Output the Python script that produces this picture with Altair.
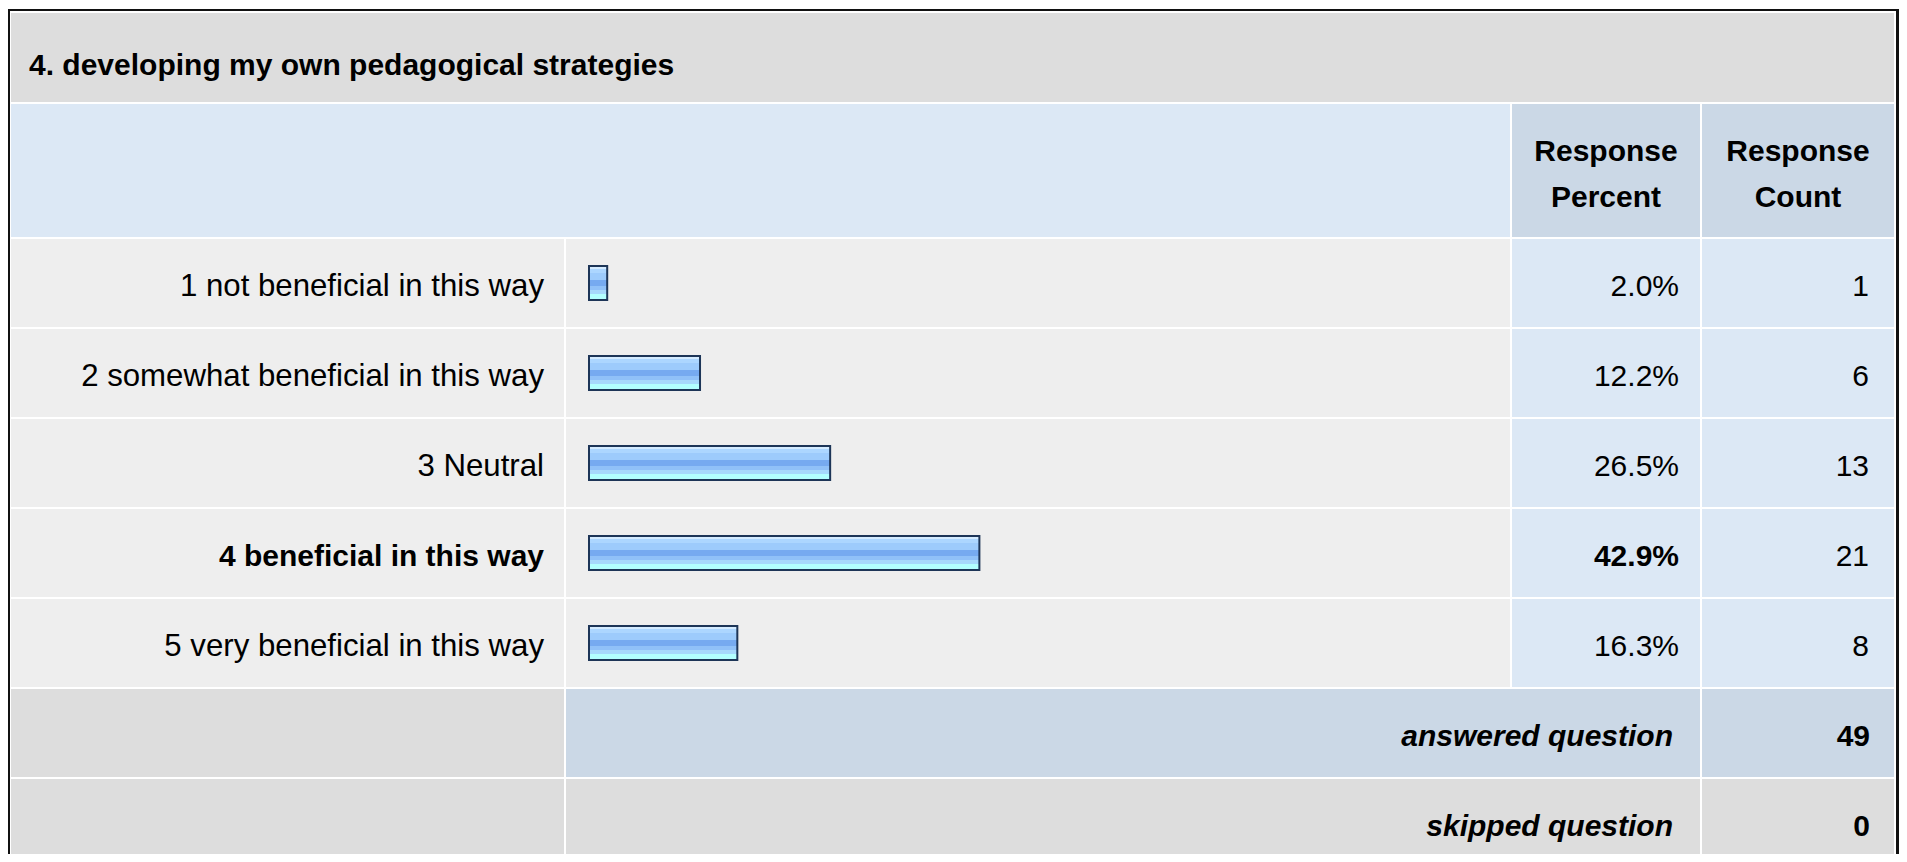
import altair as alt
import pandas as pd

# ---------------- data ----------------
question_title = "4. developing my own pedagogical strategies"
answer_labels = [
    "1 not beneficial in this way",
    "2 somewhat beneficial in this way",
    "3 Neutral",
    "4 beneficial in this way",
    "5 very beneficial in this way",
]
response_percent = [2.0, 12.2, 26.5, 42.9, 16.3]
response_count = [1, 6, 13, 21, 8]
percent_header = ["Response", "Percent"]
count_header = ["Response", "Count"]
summary_labels = ["answered question", "skipped question"]
summary_counts = [49, 0]

# ---------------- layout (page pixels) ----------------
W, H = 1891, 846          # chart area, origin at page (8, 8)
OX, OY = 8, 8
LABEL_COL = (11, 564)
BAR_COL = (566, 1510)
PCT_COL = (1512, 1700)
CNT_COL = (1702, 1894)
TITLE_ROW = (13, 102)
HEADER_ROW = (104, 237)
ROW0, ROW_STEP, ROW_H = 239, 90, 88
BAR_START, BAR_FULL = 589, 1499   # 0% and 100% positions
BAR_HALF = 17
FONT = "Liberation Sans"
FS = 30
FS_LABEL = 31.2

C_TITLE = "#dddddd"
C_HEAD = "#dce8f5"
C_HEAD_CELL = "#cbd8e6"
C_BODY = "#eeeeee"
C_BODY_NUM = "#dce8f5"
C_SUM = "#cbd8e6"
C_SKIP = "#dddddd"

xs = alt.Scale(domain=[OX, OX + W], nice=False, zero=False)
ys = alt.Scale(domain=[OY, OY + H], nice=False, zero=False, reverse=True)


def X(f):
    return alt.X(f, type="quantitative", scale=xs, axis=None)


def Y(f):
    return alt.Y(f, type="quantitative", scale=ys, axis=None)


# ---------------- cells ----------------
cells = []


def cell(c, r, fill):
    cells.append({"x": c[0], "x2": c[1], "y": r[0], "y2": r[1], "fill": fill})


cell((LABEL_COL[0], CNT_COL[1]), TITLE_ROW, C_TITLE)
cell((LABEL_COL[0], BAR_COL[1]), HEADER_ROW, C_HEAD)
cell(PCT_COL, HEADER_ROW, C_HEAD_CELL)
cell(CNT_COL, HEADER_ROW, C_HEAD_CELL)
n = len(answer_labels)
for i in range(n):
    r = (ROW0 + i * ROW_STEP, ROW0 + i * ROW_STEP + ROW_H)
    cell(LABEL_COL, r, C_BODY)
    cell(BAR_COL, r, C_BODY)
    cell(PCT_COL, r, C_BODY_NUM)
    cell(CNT_COL, r, C_BODY_NUM)
for j, fill in enumerate([C_SUM, C_SKIP]):
    i = n + j
    r = (ROW0 + i * ROW_STEP, ROW0 + i * ROW_STEP + ROW_H)
    cell(LABEL_COL, r, C_SKIP)
    cell((BAR_COL[0], PCT_COL[1]), r, fill)
    cell(CNT_COL, r, fill)

# outer border
border = [
    {"x": 8, "x2": 10, "y": 9, "y2": 862, "fill": "#111111"},
    {"x": 8, "x2": 1899, "y": 9, "y2": 11, "fill": "#111111"},
    {"x": 1896, "x2": 1899, "y": 9, "y2": 862, "fill": "#111111"},
]

cells_df = pd.DataFrame(cells + border)
cells_layer = alt.Chart(cells_df).mark_rect().encode(
    x=X("x"), x2="x2", y=Y("y"), y2="y2",
    color=alt.Color("fill:N", scale=None),
)

# ---------------- bars ----------------
bars_df = pd.DataFrame({
    "label": answer_labels,
    "pct": response_percent,
    "row": list(range(n)),
})
bars_df["yc"] = ROW0 + bars_df["row"] * ROW_STEP + ROW_H / 2
bars_df["y0"] = bars_df["yc"] - BAR_HALF
bars_df["y1"] = bars_df["yc"] + BAR_HALF
bars_df["base"] = 0.0

grad = alt.Gradient(
    gradient="linear", x1=0, x2=0, y1=0, y2=1,
    stops=[
        alt.GradientStop(offset=0.0, color="#d4ebff"),
        alt.GradientStop(offset=0.10, color="#d4ebff"),
        alt.GradientStop(offset=0.10, color="#acd6ff"),
        alt.GradientStop(offset=0.20, color="#acd6ff"),
        alt.GradientStop(offset=0.20, color="#9dcbfc"),
        alt.GradientStop(offset=0.40, color="#9dcbfc"),
        alt.GradientStop(offset=0.40, color="#76aaf0"),
        alt.GradientStop(offset=0.58, color="#76aaf0"),
        alt.GradientStop(offset=0.58, color="#90c1f8"),
        alt.GradientStop(offset=0.70, color="#90c1f8"),
        alt.GradientStop(offset=0.70, color="#a6d8fc"),
        alt.GradientStop(offset=0.83, color="#a6d8fc"),
        alt.GradientStop(offset=0.83, color="#b2ffff"),
        alt.GradientStop(offset=1.0, color="#b2ffff"),
    ],
)
pct_scale = alt.Scale(domain=[0, 100], range=[BAR_START - OX, BAR_FULL - OX],
                      nice=False, zero=False)
bars_layer = alt.Chart(bars_df).mark_rect(
    fill=grad, stroke="#1d3557", strokeWidth=2
).encode(
    x=alt.X("base:Q", scale=pct_scale, axis=None),
    x2="pct:Q",
    y=Y("y0"), y2="y1",
)

# ---------------- texts ----------------
texts = []
texts.append({"x": 29, "y": 75, "t": question_title, "a": "left", "w": "bold", "s": "normal", "f": FS})
for k, (a, b) in enumerate([percent_header, count_header]):
    col = [PCT_COL, CNT_COL][k]
    cx = (col[0] + col[1]) / 2
    texts.append({"x": cx, "y": 161, "t": a, "a": "center", "w": "bold", "s": "normal", "f": FS})
    texts.append({"x": cx, "y": 207, "t": b, "a": "center", "w": "bold", "s": "normal", "f": FS})
pmax = max(response_percent)
for i in range(n):
    yb = ROW0 + i * ROW_STEP + 57
    bold = response_percent[i] == pmax
    texts.append({"x": 544, "y": yb, "t": answer_labels[i], "a": "right",
                  "w": "bold" if bold else "normal", "s": "normal", "f": FS if bold else FS_LABEL})
    texts.append({"x": 1679, "y": yb, "t": f"{response_percent[i]:.1f}%", "a": "right",
                  "w": "bold" if bold else "normal", "s": "normal", "f": FS})
    texts.append({"x": 1869, "y": yb, "t": str(response_count[i]), "a": "right",
                  "w": "normal", "s": "normal", "f": FS})
for j in range(len(summary_labels)):
    yb = ROW0 + (n + j) * ROW_STEP + 57
    texts.append({"x": 1673, "y": yb, "t": summary_labels[j], "a": "right", "w": "bold", "s": "italic", "f": FS})
    texts.append({"x": 1870, "y": yb, "t": str(summary_counts[j]), "a": "right", "w": "bold", "s": "normal", "f": FS})

tdf = pd.DataFrame(texts)
text_layers = []
for (a, w, s, f), sub in tdf.groupby(["a", "w", "s", "f"]):
    text_layers.append(
        alt.Chart(sub.reset_index(drop=True)).mark_text(
            align=a, baseline="alphabetic", font=FONT, fontSize=float(f),
            fontWeight=w, fontStyle=s, color="#000000",
        ).encode(x=X("x"), y=Y("y"), text="t:N")
    )

chart = alt.layer(cells_layer, bars_layer, *text_layers).resolve_scale(
    x="independent", y="independent"
).properties(
    width=W, height=H,
    autosize=alt.AutoSizeParams(type="none"),
    padding=0,
    background="white",
).configure_view(stroke=None)

chart.save("out.html", embed_options={"renderer": "svg", "actions": False})
